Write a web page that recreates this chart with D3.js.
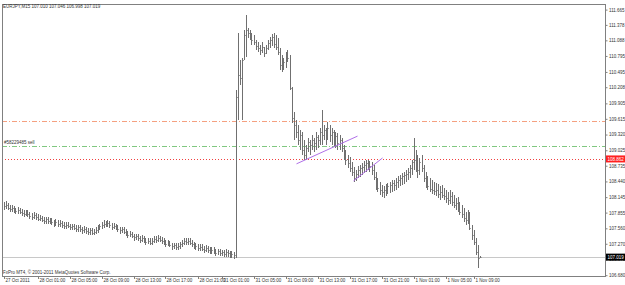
<!DOCTYPE html>
<html><head><meta charset="utf-8">
<script src="https://cdn.jsdelivr.net/npm/d3@7"></script>
<style>
body{margin:0;background:#fff}
svg{display:block}
text{font-family:"Liberation Sans",Arial,sans-serif}
</style>
</head><body>
<svg id="c" width="625" height="285"></svg>
<script>
// ---------- DATA ----------
const headerText = "EURJPY,M15  107.010 107.046 106.998 107.019";
const copyrightText = "FxPro MT4, \u00a9 2001-2011 MetaQuotes Software Corp.";
const orderLabel = "#58229485 sell";

const highs = [
108.05,108.07,108.04,108.00,107.99,107.98,107.95,107.96,107.95,107.92,
107.90,107.91,107.90,107.87,107.85,107.86,107.85,107.82,107.81,107.80,
107.77,107.78,107.77,107.76,107.75,107.72,107.73,107.72,107.71,107.70,
107.67,107.68,107.68,107.65,107.65,107.65,107.62,107.63,107.62,107.59,
107.60,107.59,107.56,107.57,107.56,107.55,107.58,107.62,107.65,107.68,
107.71,107.70,107.71,107.70,107.66,107.66,107.65,107.62,107.59,107.59,
107.58,107.54,107.51,107.51,107.50,107.46,107.46,107.45,107.42,107.43,
107.42,107.38,107.38,107.37,107.37,107.41,107.41,107.43,107.42,107.40,
107.37,107.34,107.34,107.33,107.29,107.29,107.28,107.28,107.31,107.34,
107.37,107.37,107.38,107.37,107.34,107.31,107.29,107.26,107.26,107.26,
107.23,107.24,107.23,107.20,107.21,107.20,107.17,107.18,107.17,107.16,
107.15,107.17,107.16,107.13,107.13,107.12,
110.15,111.22,110.72,110.75,111.28,111.56,111.32,111.28,111.22,111.19,
111.09,111.06,111.00,111.06,110.96,111.00,111.09,111.15,111.21,111.22,
111.19,111.13,110.94,110.81,110.75,110.87,110.90,110.81,110.21,109.74,
109.59,109.50,109.40,109.37,109.22,109.12,109.25,109.22,109.31,109.25,
109.37,109.31,109.44,109.78,109.50,109.44,109.55,109.50,109.44,109.40,
109.37,109.35,109.31,109.25,109.12,109.03,108.94,108.90,108.80,108.71,
108.65,108.73,108.75,108.79,108.82,108.84,108.84,108.82,108.80,108.75,
108.62,108.50,108.43,108.37,108.35,108.39,108.41,108.43,108.47,108.47,
108.50,108.54,108.56,108.60,108.62,108.65,108.69,108.75,108.84,109.25,
109.03,108.94,108.88,108.94,108.75,108.62,108.54,108.50,108.47,108.43,
108.41,108.39,108.35,108.37,108.32,108.28,108.24,108.28,108.24,108.18,
108.13,108.15,108.05,108.00,107.94,107.87,107.90,107.87,107.62,107.53,
107.38,107.25,107.046];

const lows = [
107.91,107.93,107.90,107.87,107.87,107.85,107.82,107.83,107.82,107.79,
107.77,107.79,107.77,107.74,107.72,107.73,107.72,107.69,107.69,107.67,
107.64,107.65,107.64,107.64,107.62,107.59,107.60,107.59,107.59,107.57,
107.54,107.55,107.56,107.52,107.53,107.52,107.49,107.50,107.49,107.46,
107.47,107.46,107.43,107.44,107.43,107.43,107.45,107.48,107.52,107.55,
107.57,107.58,107.58,107.57,107.53,107.54,107.52,107.49,107.46,107.47,
107.45,107.41,107.38,107.39,107.37,107.33,107.34,107.32,107.29,107.30,
107.29,107.25,107.26,107.24,107.25,107.28,107.29,107.30,107.30,107.27,
107.24,107.21,107.22,107.20,107.16,107.17,107.16,107.16,107.18,107.21,
107.24,107.25,107.25,107.24,107.21,107.18,107.16,107.13,107.14,107.13,
107.10,107.11,107.10,107.07,107.08,107.07,107.04,107.05,107.04,107.04,
107.02,107.03,107.03,107.00,107.00,106.98,
107.00,109.59,110.25,109.59,110.72,110.77,111.13,111.09,111.00,111.00,
110.90,110.87,110.81,110.85,110.77,110.83,110.90,110.94,110.98,110.94,
110.90,110.81,110.53,110.49,110.53,110.57,110.68,110.15,109.54,109.22,
109.25,109.12,109.03,108.94,108.84,108.84,108.99,108.94,109.03,108.99,
109.03,109.07,109.12,109.12,109.22,109.12,109.22,109.18,109.12,109.10,
109.07,109.03,109.03,108.99,108.84,108.75,108.69,108.62,108.54,108.43,
108.45,108.50,108.52,108.56,108.60,108.62,108.65,108.62,108.56,108.47,
108.28,108.24,108.18,108.15,108.13,108.17,108.20,108.22,108.24,108.26,
108.28,108.32,108.35,108.37,108.39,108.43,108.47,108.50,108.56,108.65,
108.62,108.50,108.56,108.62,108.43,108.32,108.28,108.24,108.20,108.18,
108.17,108.13,108.09,108.13,108.09,108.03,108.00,108.02,107.98,107.94,
107.90,107.87,107.81,107.75,107.68,107.62,107.64,107.53,107.34,107.25,
107.06,106.81,106.998];

const closes = [
107.98,108.00,107.95,107.92,107.94,107.90,107.88,107.91,107.87,107.85,
107.83,107.86,107.82,107.80,107.78,107.81,107.77,107.74,107.76,107.72,
107.70,107.73,107.69,107.71,107.67,107.65,107.68,107.64,107.66,107.62,
107.60,107.63,107.61,107.58,107.60,107.57,107.55,107.58,107.54,107.52,
107.55,107.51,107.49,107.52,107.48,107.50,107.53,107.57,107.60,107.62,
107.65,107.63,107.66,107.62,107.59,107.61,107.57,107.55,107.52,107.54,
107.50,107.47,107.44,107.46,107.42,107.39,107.41,107.37,107.35,107.38,
107.34,107.31,107.33,107.29,107.32,107.36,107.34,107.38,107.35,107.33,
107.30,107.27,107.29,107.25,107.22,107.24,107.21,107.23,107.26,107.29,
107.32,107.30,107.33,107.29,107.27,107.24,107.22,107.19,107.21,107.18,
107.16,107.19,107.15,107.13,107.16,107.12,107.10,107.13,107.09,107.11,
107.08,107.12,107.09,107.06,107.08,107.05,
110.02,110.44,110.38,110.72,111.19,111.28,111.22,111.19,111.09,111.06,
110.98,110.94,110.90,110.96,110.85,110.94,111.04,111.09,111.15,111.02,
110.96,110.87,110.62,110.72,110.68,110.79,110.75,110.19,109.63,109.50,
109.37,109.22,109.31,109.03,108.94,109.07,109.18,109.12,109.22,109.16,
109.27,109.22,109.37,109.31,109.40,109.25,109.44,109.31,109.37,109.22,
109.29,109.16,109.22,109.07,108.90,108.84,108.79,108.69,108.62,108.50,
108.58,108.65,108.69,108.71,108.75,108.79,108.77,108.73,108.65,108.52,
108.37,108.32,108.28,108.24,108.28,108.32,108.35,108.37,108.41,108.37,
108.43,108.47,108.50,108.54,108.56,108.58,108.62,108.69,108.80,108.84,
108.75,108.65,108.80,108.69,108.50,108.41,108.35,108.30,108.28,108.26,
108.28,108.20,108.24,108.18,108.17,108.13,108.09,108.17,108.05,108.00,
108.03,107.94,107.87,107.83,107.75,107.72,107.81,107.57,107.43,107.30,
107.12,107.01,107.019];

// price axis tick labels
const priceTicks = ["111.665","111.378","111.088","110.795","110.495","110.208","109.905","109.615",
  "109.320","109.025","108.735","108.440","108.145","107.855","107.560","107.270","106.975","106.680"];

// time axis labels (bar index, text)
const timeIdx = [0,17,33,49,65,81,97,109,125,141,157,173,189,205,221,235];
const timeText = ["27 Oct 2011","28 Oct 01:00","28 Oct 05:00","28 Oct 09:00","28 Oct 13:00","28 Oct 17:00",
  "28 Oct 21:00","31 Oct 01:00","31 Oct 05:00","31 Oct 09:00","31 Oct 13:00","31 Oct 17:00",
  "31 Oct 21:00","1 Nov 01:00","1 Nov 05:00","1 Nov 09:00"];

// horizontal levels
const levelPrices = [109.58, 109.10, 108.862, 107.019];
const levelColors = ["#f5a080", "#80c880", "#f04040", "#c8c8c8"];
const levelDash   = ["5,2,1,2", "5,2,1,2", "1,2", null];

// trend lines [startIndex, startPrice, endIndex, endPrice]
const trendStartIdx = [146.5, 175];
const trendStartPx  = [108.77, 108.45];
const trendEndIdx   = [177, 189.5];
const trendEndPx    = [109.29, 108.88];

const priceMin = 106.665, priceMax = 111.77;
const totalSlots = 301;

// ---------- DRAW ----------
const FS = 4.5;
const svg = d3.select("#c");
const L = 2, R = 605, T = 4, B = 276;
const x = d3.scaleLinear().domain([0, totalSlots]).range([3.5, 605.5]);
const y = d3.scaleLinear().domain([priceMin, priceMax]).range([B, T]);

svg.append("rect").attr("width",625).attr("height",285).attr("fill","#fff");

// horizontal level lines
const lv = svg.append("g").attr("shape-rendering","crispEdges");
levelPrices.forEach((p,i)=>{
  lv.append("line").attr("x1",L).attr("x2",R)
    .attr("y1",Math.round(y(p))+0.5).attr("y2",Math.round(y(p))+0.5)
    .attr("stroke",levelColors[i]).attr("stroke-width",1)
    .attr("stroke-dasharray",levelDash[i]);
});

// bars
const bars = svg.append("g").attr("shape-rendering","crispEdges");
highs.forEach((h,i)=>{
  const xi = Math.round(x(i)) + 0.5;
  bars.append("line").attr("x1",xi).attr("x2",xi)
    .attr("y1",y(h)).attr("y2",y(lows[i]))
    .attr("stroke","#707070").attr("stroke-width",1);
  bars.append("line").attr("x1",xi).attr("x2",xi+1)
    .attr("y1",Math.round(y(closes[i]))+0.5).attr("y2",Math.round(y(closes[i]))+0.5)
    .attr("stroke","#a0a0a0").attr("stroke-width",1);
});

// trend lines
trendStartIdx.forEach((s,i)=>{
  svg.append("line").attr("x1",x(s)).attr("y1",y(trendStartPx[i]))
    .attr("x2",x(trendEndIdx[i])).attr("y2",y(trendEndPx[i]))
    .attr("stroke","#b070e8").attr("stroke-width",1);
});

// frame
const fr = svg.append("g").attr("shape-rendering","crispEdges").attr("stroke","#808080").attr("fill","none");
fr.append("line").attr("x1",L+0.5).attr("x2",L+0.5).attr("y1",T).attr("y2",B);
fr.append("line").attr("x1",L).attr("x2",R).attr("y1",T+0.5).attr("y2",T+0.5);
fr.append("line").attr("x1",L).attr("x2",R).attr("y1",B+0.5).attr("y2",B+0.5);

// right price axis
const yAxis = d3.axisRight(y)
  .tickValues(priceTicks.map(Number))
  .tickFormat((d,i)=>priceTicks[i])
  .tickSizeInner(2).tickSizeOuter(0).tickPadding(1.5);
const ya = svg.append("g").attr("transform",`translate(${R+0.5},0)`).call(yAxis);
ya.select(".domain").attr("stroke","#808080").attr("d",`M0,${T}V${B+1}`);
ya.selectAll(".tick line").attr("stroke","#808080");
ya.selectAll(".tick text").attr("font-size",FS).attr("fill","#333").attr("font-family","Liberation Sans, Arial, sans-serif");

// bottom time axis
const xa = svg.append("g");
timeIdx.forEach((ti,i)=>{
  const xx = Math.round(x(ti)) + 0.5;
  xa.append("line").attr("x1",xx).attr("x2",xx).attr("y1",B).attr("y2",B+3).attr("stroke","#808080");
  xa.append("text").attr("x",xx+1).attr("y",282).attr("font-size",FS).attr("fill","#333").text(timeText[i]);
});

// price labels for red level and bid
function priceTag(p, bg, txt){
  const yy = y(p);
  svg.append("rect").attr("x",R+1).attr("y",yy-3.5).attr("width",19).attr("height",7).attr("fill",bg);
  svg.append("text").attr("x",R+2.5).attr("y",yy+1.7).attr("font-size",FS).attr("fill","#fff").text(txt);
}
priceTag(levelPrices[2], "#ff2020", "108.862");
priceTag(levelPrices[3], "#000", "107.019");

// texts
svg.append("text").attr("x",3).attr("y",8).attr("font-size",FS).attr("fill","#333").text(headerText);
svg.append("text").attr("x",4).attr("y",y(levelPrices[1])-2).attr("font-size",FS).attr("fill","#333").text(orderLabel);
svg.append("text").attr("x",3).attr("y",273.5).attr("font-size",FS).attr("fill","#333").text(copyrightText);
</script>
</body></html>
